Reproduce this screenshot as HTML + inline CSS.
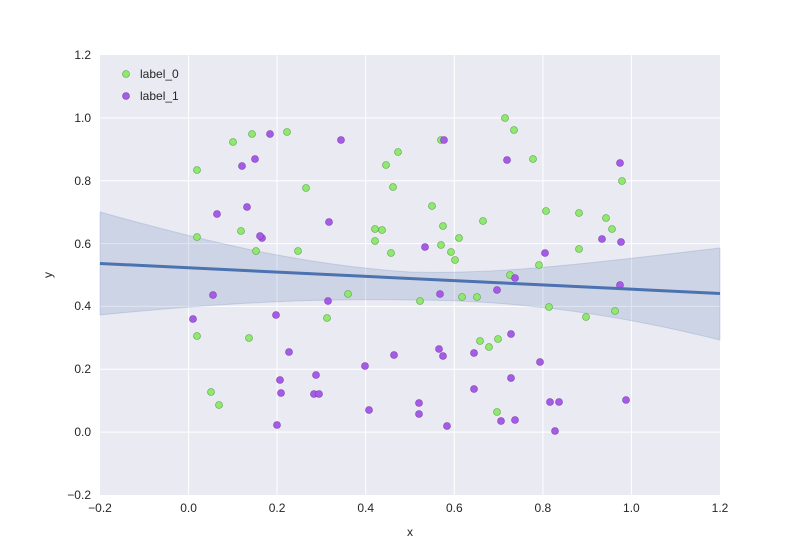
<!DOCTYPE html>
<html><head><style>body{margin:0;background:#fff}svg{display:block}text{font-family:"Liberation Sans",sans-serif;font-size:12px;fill:#262626}</style></head><body>
<svg width="800" height="550" xmlns="http://www.w3.org/2000/svg">
<rect x="100" y="55" width="620" height="440" fill="#EAEAF2"/>
<g stroke="#fff" stroke-width="1">
<line x1="188.6" y1="55" x2="188.6" y2="495"/><line x1="277.1" y1="55" x2="277.1" y2="495"/><line x1="365.7" y1="55" x2="365.7" y2="495"/><line x1="454.3" y1="55" x2="454.3" y2="495"/><line x1="542.9" y1="55" x2="542.9" y2="495"/><line x1="631.4" y1="55" x2="631.4" y2="495"/>
<line x1="100" y1="117.9" x2="720" y2="117.9"/><line x1="100" y1="180.7" x2="720" y2="180.7"/><line x1="100" y1="243.6" x2="720" y2="243.6"/><line x1="100" y1="306.4" x2="720" y2="306.4"/><line x1="100" y1="369.3" x2="720" y2="369.3"/><line x1="100" y1="432.1" x2="720" y2="432.1"/>
</g>
<path d="M100,212 C200,240 300,265 410,272 C500,275 600,262 720,248 L720,340 C600,310 500,300 410,300 C300,298 200,305 100,315 Z" fill="#4C72B0" fill-opacity="0.18" stroke="#4C72B0" stroke-opacity="0.2"/>
<g fill="#8FE870" stroke="#5a9e3f" stroke-width="0.6">
<circle cx="197" cy="170" r="3.5"/><circle cx="197" cy="237" r="3.5"/><circle cx="197" cy="336" r="3.5"/><circle cx="219" cy="405" r="3.5"/><circle cx="233" cy="142" r="3.5"/><circle cx="241" cy="231" r="3.5"/><circle cx="249" cy="338" r="3.5"/><circle cx="252" cy="134" r="3.5"/><circle cx="287" cy="132" r="3.5"/><circle cx="298" cy="251" r="3.5"/><circle cx="306" cy="188" r="3.5"/><circle cx="327" cy="318" r="3.5"/><circle cx="348" cy="294" r="3.5"/><circle cx="382" cy="230" r="3.5"/><circle cx="398" cy="152" r="3.5"/><circle cx="375" cy="241" r="3.5"/><circle cx="375" cy="229" r="3.5"/><circle cx="386" cy="165" r="3.5"/><circle cx="393" cy="187" r="3.5"/><circle cx="391" cy="253" r="3.5"/><circle cx="432" cy="206" r="3.5"/><circle cx="441" cy="140" r="3.5"/><circle cx="443" cy="226" r="3.5"/><circle cx="441" cy="245" r="3.5"/><circle cx="451" cy="252" r="3.5"/><circle cx="455" cy="260" r="3.5"/><circle cx="459" cy="238" r="3.5"/><circle cx="462" cy="297" r="3.5"/><circle cx="477" cy="297" r="3.5"/><circle cx="420" cy="301" r="3.5"/><circle cx="480" cy="341" r="3.5"/><circle cx="483" cy="221" r="3.5"/><circle cx="489" cy="347" r="3.5"/><circle cx="498" cy="339" r="3.5"/><circle cx="497" cy="412" r="3.5"/><circle cx="505" cy="118" r="3.5"/><circle cx="510" cy="275" r="3.5"/><circle cx="514" cy="130" r="3.5"/><circle cx="533" cy="159" r="3.5"/><circle cx="539" cy="265" r="3.5"/><circle cx="546" cy="211" r="3.5"/><circle cx="549" cy="307" r="3.5"/><circle cx="579" cy="213" r="3.5"/><circle cx="579" cy="249" r="3.5"/><circle cx="586" cy="317" r="3.5"/><circle cx="606" cy="218" r="3.5"/><circle cx="612" cy="229" r="3.5"/><circle cx="615" cy="311" r="3.5"/><circle cx="622" cy="181" r="3.5"/><circle cx="211" cy="392" r="3.5"/><circle cx="256" cy="251" r="3.5"/>
</g>
<g fill="#A55BE5" stroke="#7a3fb0" stroke-width="0.6">
<circle cx="193" cy="319" r="3.5"/><circle cx="213" cy="295" r="3.5"/><circle cx="217" cy="214" r="3.5"/><circle cx="242" cy="166" r="3.5"/><circle cx="247" cy="207" r="3.5"/><circle cx="255" cy="159" r="3.5"/><circle cx="262" cy="238" r="3.5"/><circle cx="260" cy="236" r="3.5"/><circle cx="270" cy="134" r="3.5"/><circle cx="276" cy="315" r="3.5"/><circle cx="280" cy="380" r="3.5"/><circle cx="277" cy="425" r="3.5"/><circle cx="289" cy="352" r="3.5"/><circle cx="281" cy="393" r="3.5"/><circle cx="314" cy="394" r="3.5"/><circle cx="316" cy="375" r="3.5"/><circle cx="319" cy="394" r="3.5"/><circle cx="329" cy="222" r="3.5"/><circle cx="328" cy="301" r="3.5"/><circle cx="341" cy="140" r="3.5"/><circle cx="365" cy="366" r="3.5"/><circle cx="369" cy="410" r="3.5"/><circle cx="394" cy="355" r="3.5"/><circle cx="419" cy="403" r="3.5"/><circle cx="419" cy="414" r="3.5"/><circle cx="425" cy="247" r="3.5"/><circle cx="439" cy="349" r="3.5"/><circle cx="440" cy="294" r="3.5"/><circle cx="443" cy="356" r="3.5"/><circle cx="444" cy="140" r="3.5"/><circle cx="447" cy="426" r="3.5"/><circle cx="474" cy="353" r="3.5"/><circle cx="474" cy="389" r="3.5"/><circle cx="497" cy="290" r="3.5"/><circle cx="501" cy="421" r="3.5"/><circle cx="507" cy="160" r="3.5"/><circle cx="511" cy="334" r="3.5"/><circle cx="511" cy="378" r="3.5"/><circle cx="515" cy="420" r="3.5"/><circle cx="515" cy="278" r="3.5"/><circle cx="540" cy="362" r="3.5"/><circle cx="545" cy="253" r="3.5"/><circle cx="550" cy="402" r="3.5"/><circle cx="555" cy="431" r="3.5"/><circle cx="559" cy="402" r="3.5"/><circle cx="602" cy="239" r="3.5"/><circle cx="620" cy="163" r="3.5"/><circle cx="621" cy="242" r="3.5"/><circle cx="620" cy="285" r="3.5"/><circle cx="626" cy="400" r="3.5"/>
</g>
<line x1="100" y1="263.5" x2="720" y2="293.5" stroke="#4C72B0" stroke-width="3"/>
<circle cx="126" cy="74" r="3.5" fill="#8FE870" stroke="#5a9e3f" stroke-width="0.6"/><text x="140" y="78">label_0</text>
<circle cx="126" cy="96" r="3.5" fill="#A55BE5" stroke="#7a3fb0" stroke-width="0.6"/><text x="140" y="100">label_1</text>
<g text-anchor="middle">
<text x="100" y="512">−0.2</text><text x="188.6" y="512">0.0</text><text x="277.1" y="512">0.2</text><text x="365.7" y="512">0.4</text><text x="454.3" y="512">0.6</text><text x="542.9" y="512">0.8</text><text x="631.4" y="512">1.0</text><text x="720" y="512">1.2</text>
<text x="410" y="536">x</text>
</g>
<g text-anchor="end">
<text x="91" y="59">1.2</text><text x="91" y="122">1.0</text><text x="91" y="185">0.8</text><text x="91" y="248">0.6</text><text x="91" y="310">0.4</text><text x="91" y="373">0.2</text><text x="91" y="436">0.0</text><text x="91" y="499">−0.2</text>
</g>
<text x="52" y="275" text-anchor="middle" transform="rotate(-90 52 275)">y</text>
</svg>
</body></html>
